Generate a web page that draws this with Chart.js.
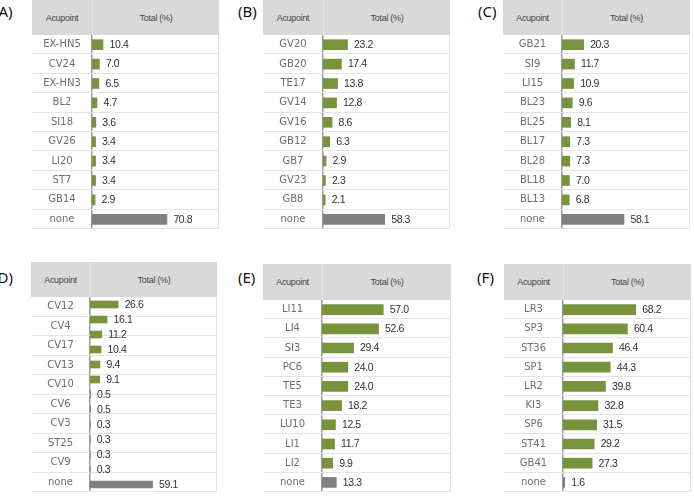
<!DOCTYPE html>
<html><head><meta charset="utf-8">
<script src="https://cdn.jsdelivr.net/npm/chart.js@4/dist/chart.umd.min.js"></script>
<style>
html,body{margin:0;padding:0;background:#fff;width:694px;height:496px;overflow:hidden;position:relative;}
.letter{position:absolute;font:15px "Noto Sans",sans-serif;color:#111;line-height:15px;white-space:nowrap;}
.hdr{position:absolute;background:#d9d9d9;}
.hdr span{position:absolute;top:0;height:100%;display:flex;align-items:center;justify-content:center;font:9px "Liberation Sans Narrow","Liberation Sans",sans-serif;color:#444;letter-spacing:-0.3px;}
.hdr i{position:absolute;top:0;width:1px;height:100%;background:#e8e8e8;}
canvas{position:absolute;}
</style></head><body>
<script>
// ---- data ----
const catA = ['EX-HN5','CV24','EX-HN3','BL2','SI18','GV26','LI20','ST7','GB14','none'];
const valA = [10.4,7.0,6.5,4.7,3.6,3.4,3.4,3.4,2.9,70.8];

const catB = ['GV20','GB20','TE17','GV14','GV16','GB12','GB7','GV23','GB8','none'];
const valB = [23.2,17.4,13.8,12.8,8.6,6.3,2.9,2.3,2.1,58.3];

const catC = ['GB21','SI9','LI15','BL23','BL25','BL17','BL28','BL18','BL13','none'];
const valC = [20.3,11.7,10.9,9.6,8.1,7.3,7.3,7.0,6.8,58.1];

const rowD = ['CV12','CV4','CV17','CV13','CV10','CV6','CV3','ST25','CV9','none'];
const catD = ['d1','d2','d3','d4','d5','d6','d7','d8','d9','d10','d11','d12','none'];
const valD = [26.6,16.1,11.2,10.4,9.4,9.1,0.5,0.5,0.3,0.3,0.3,0.3,59.1];

const catE = ['LI11','LI4','SI3','PC6','TE5','TE3','LU10','LI1','LI2','none'];
const valE = [57.0,52.6,29.4,24.0,24.0,18.2,12.5,11.7,9.9,13.3];

const catF = ['LR3','SP3','ST36','SP1','LR2','KI3','SP6','ST41','GB41','none'];
const valF = [68.2,60.4,46.4,44.3,39.8,32.8,31.5,29.2,27.3,1.6];

const headerLeft = 'Acupoint';
const headerRight = 'Total (%)';
const panelLetters = ['(A)','(B)','(C)','(D)','(E)','(F)'];

// ---- layout / style ----
const GREEN = '#77933c', GRAY = '#808080';
const LABEL_FONT = {family:'DejaVu Sans', size:10};
const panels = [
  {letter:panelLetters[0], cats:catA, rows:catA, vals:valA, box:[32,92,219,0,35,229], lpos:[-6,4], thick:10},
  {letter:panelLetters[1], cats:catB, rows:catB, vals:valB, box:[263,323,450,0,35,229], lpos:[238,4], thick:10},
  {letter:panelLetters[2], cats:catC, rows:catC, vals:valC, box:[503,562,690,0,35,229], lpos:[478,4], thick:10},
  {letter:panelLetters[3], cats:catD, rows:rowD, vals:valD, box:[31,90,217,262,297,492], lpos:[-7,270], thick:7},
  {letter:panelLetters[4], cats:catE, rows:catE, vals:valE, box:[263,322,451,264,300,492], lpos:[238,270], thick:10},
  {letter:panelLetters[5], cats:catF, rows:catF, vals:valF, box:[504,563,691,264,300,492], lpos:[477,270], thick:10}
];

const mctx = document.createElement('canvas').getContext('2d');
function widest(labels){
  mctx.font = LABEL_FONT.size + 'px ' + LABEL_FONT.family;
  return Math.max(...labels.map(l => mctx.measureText(l).width));
}

const tablePlugin = {
  id:'tableRows',
  beforeDatasetsDraw(chart){
    const {ctx, chartArea:{top,bottom}} = chart;
    const s = chart.scales.yl;
    const n = s.getLabels().length;
    const rh = (bottom - top) / n;
    ctx.save();
    ctx.strokeStyle = '#e4e4e4';
    ctx.lineWidth = 1;
    for (let i = 1; i <= n; i++) {
      const y = Math.min(Math.round(top + i*rh), chart.height) - 0.5;
      ctx.beginPath(); ctx.moveTo(0,y); ctx.lineTo(chart.width,y); ctx.stroke();
    }
    ctx.beginPath(); ctx.moveTo(chart.width-0.5,top); ctx.lineTo(chart.width-0.5,bottom); ctx.stroke();
    ctx.restore();
  }
};
const valuePlugin = {
  id:'values',
  afterDatasetsDraw(chart){
    const {ctx} = chart;
    const meta = chart.getDatasetMeta(0);
    const data = chart.data.datasets[0].data;
    ctx.save();
    ctx.font = '10.5px "Liberation Sans Narrow", "Liberation Sans", sans-serif';
    try { ctx.letterSpacing = '-0.4px'; } catch(e) {}
    ctx.fillStyle = '#333';
    ctx.textAlign = 'left';
    ctx.textBaseline = 'middle';
    meta.data.forEach((bar,i) => {
      ctx.fillText(Number(data[i]).toFixed(1), bar.x + 6.5, bar.y + 0.5);
    });
    ctx.restore();
  }
};

panels.forEach(p => {
  const [x0,xs,x1,yh0,yh1,yb] = p.box;
  const colW = xs - x0;
  const lt = document.createElement('div');
  lt.className = 'letter'; lt.textContent = p.letter;
  lt.style.left = p.lpos[0]+'px'; lt.style.top = p.lpos[1]+'px';
  document.body.appendChild(lt);

  const h = document.createElement('div');
  h.className = 'hdr';
  Object.assign(h.style, {left:x0+'px', top:yh0+'px', width:(x1-x0)+'px', height:(yh1-yh0)+'px'});
  const s1 = document.createElement('span'); s1.textContent = headerLeft;
  s1.style.left = '0px'; s1.style.width = colW+'px';
  const dv = document.createElement('i'); dv.style.left = colW+'px';
  const s2 = document.createElement('span'); s2.textContent = headerRight;
  s2.style.left = (colW+1)+'px'; s2.style.width = (x1-xs-1)+'px';
  h.appendChild(s1); h.appendChild(dv); h.appendChild(s2);
  document.body.appendChild(h);

  const c = document.createElement('canvas');
  c.width = x1 - x0; c.height = yb - yh1;
  c.style.left = x0+'px'; c.style.top = yh1+'px';
  c.style.width = (x1-x0)+'px'; c.style.height = (yb-yh1)+'px';
  document.body.appendChild(c);

  const w = widest(p.rows);
  new Chart(c, {
    type:'bar',
    data:{
      labels:p.cats,
      datasets:[{
        data:p.vals,
        backgroundColor:p.cats.map(k => k === 'none' ? GRAY : GREEN),
        barThickness:p.thick,
        borderWidth:0,
        xAxisID:'x', yAxisID:'y'
      }]
    },
    options:{
      indexAxis:'y',
      responsive:false,
      animation:false,
      devicePixelRatio:1,
      layout:{padding:0},
      plugins:{legend:{display:false}, tooltip:{enabled:false}, title:{display:false}},
      scales:{
        x:{display:false, min:0, max:120},
        y:{display:false, offset:true},
        yl:{
          type:'category', labels:p.rows, position:'left', offset:true,
          grid:{display:false, drawTicks:false},
          border:{display:true, color:'#9c9c9c', width:1.5},
          ticks:{autoSkip:false, crossAlign:'center', padding:colW/2 - w/2, color:'#6e6e6e', font:LABEL_FONT},
          afterFit(s){ s.width = colW; s.paddingTop = 0; s.paddingBottom = 0; }
        }
      }
    },
    plugins:[tablePlugin, valuePlugin]
  });
});
</script>
</body></html>
